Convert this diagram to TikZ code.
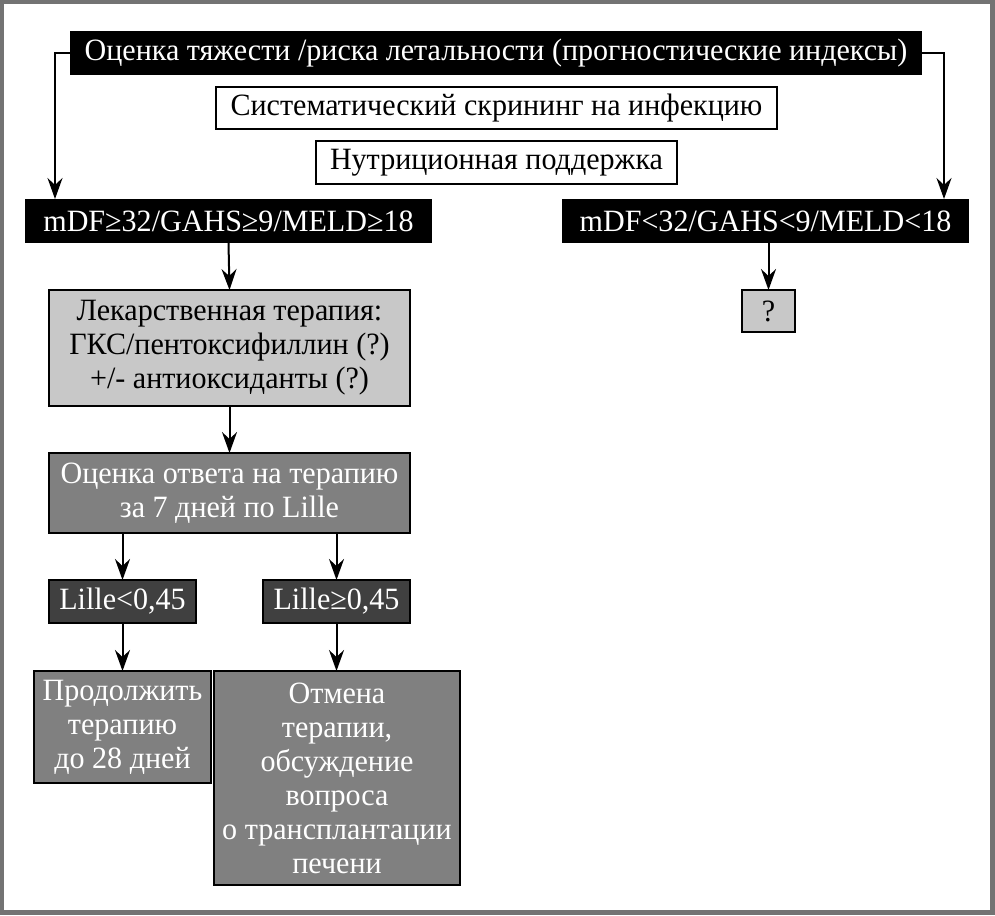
\documentclass[tikz,border=0pt]{standalone}
\usepackage{fontspec}
\setmainfont[FakeStretch=0.97]{Liberation Serif}
\usetikzlibrary{arrows.meta,calc}
\definecolor{frame}{HTML}{737373}
\definecolor{lgray}{HTML}{C8C8C8}
\definecolor{mgray}{HTML}{808080}
\definecolor{dgray}{HTML}{404040}
\begin{document}
\begin{tikzpicture}[x=1pt,y=-1pt,
  base/.style={inner sep=0pt,outer sep=0pt,align=center,font=\fontsize{31}{34}\selectfont},
  blackbox/.style={base,fill=black,text=white},
  whitebox/.style={base,fill=white,draw=black,line width=1.5pt},
  lbox/.style={base,fill=lgray,draw=black,line width=1.5pt},
  mbox/.style={base,fill=mgray,draw=black,line width=1.5pt,text=white},
  dbox/.style={base,fill=dgray,draw=black,line width=1.5pt,text=white},
  arr/.style={line width=2pt,-{Stealth[length=21pt,width=15pt,inset=7pt]}}]
\fill[frame] (0,0) rectangle (995,915);
\fill[white] (4,4) rectangle (990,910);
\useasboundingbox (0,0) rectangle (995,915);
\node[blackbox,minimum width=852pt,minimum height=44pt] (top) at (496,53) {Оценка тяжести /риска летальности (прогностические индексы)};
\node[whitebox,minimum width=561pt,minimum height=42pt] (scr) at (496.5,108) {Систематический скрининг на инфекцию};
\node[whitebox,minimum width=361pt,minimum height=43pt] (nut) at (496.5,162.5) {Нутриционная поддержка};
\node[blackbox,minimum width=407pt,minimum height=44pt] (b4) at (228.5,221) {mDF≥32/GAHS≥9/MELD≥18};
\node[blackbox,minimum width=407pt,minimum height=44pt] (b5) at (765.5,221) {mDF<32/GAHS<9/MELD<18};
\node[lbox,minimum width=53pt,minimum height=42pt] (q) at (768.5,311) {?};
\node[lbox,minimum width=361pt,minimum height=116pt] (drug) at (229.5,348) {Лекарственная терапия:\\ГКС/пентоксифиллин (?)\\+/- антиоксиданты (?)};
\node[mbox,minimum width=361pt,minimum height=80pt] (ev) at (229.5,493) {Оценка ответа на терапию\\за 7 дней по Lille};
\node[dbox,minimum width=147pt,minimum height=43pt] (l1) at (122.5,601.5) {Lille<0,45};
\node[dbox,minimum width=147pt,minimum height=43pt] (l2) at (336.5,601.5) {Lille≥0,45};
\node[mbox,minimum width=177pt,minimum height=112pt] (p1) at (122.5,727) {Продолжить\\терапию\\до 28 дней};
\node[mbox,minimum width=246pt,minimum height=214pt] (p2) at (337,778) {Отмена\\терапии,\\обсуждение\\вопроса\\о трансплантации\\печени};
\draw[arr] (top.west) -| ([xshift=30pt]b4.north west);
\draw[arr] (top.east) -| ([xshift=-25pt]b5.north east);
\draw[arr] (b4.south) -- (drug.north);
\draw[arr] (q.north |- b5.south) -- (q.north);
\draw[arr] (drug.south) -- (ev.north);
\draw[arr] (l1.north |- ev.south) -- (l1.north);
\draw[arr] (l2.north |- ev.south) -- (l2.north);
\draw[arr] (l1.south) -- (p1.north);
\draw[arr] (l2.south) -- (l2.south |- p2.north);
\end{tikzpicture}
\end{document}
